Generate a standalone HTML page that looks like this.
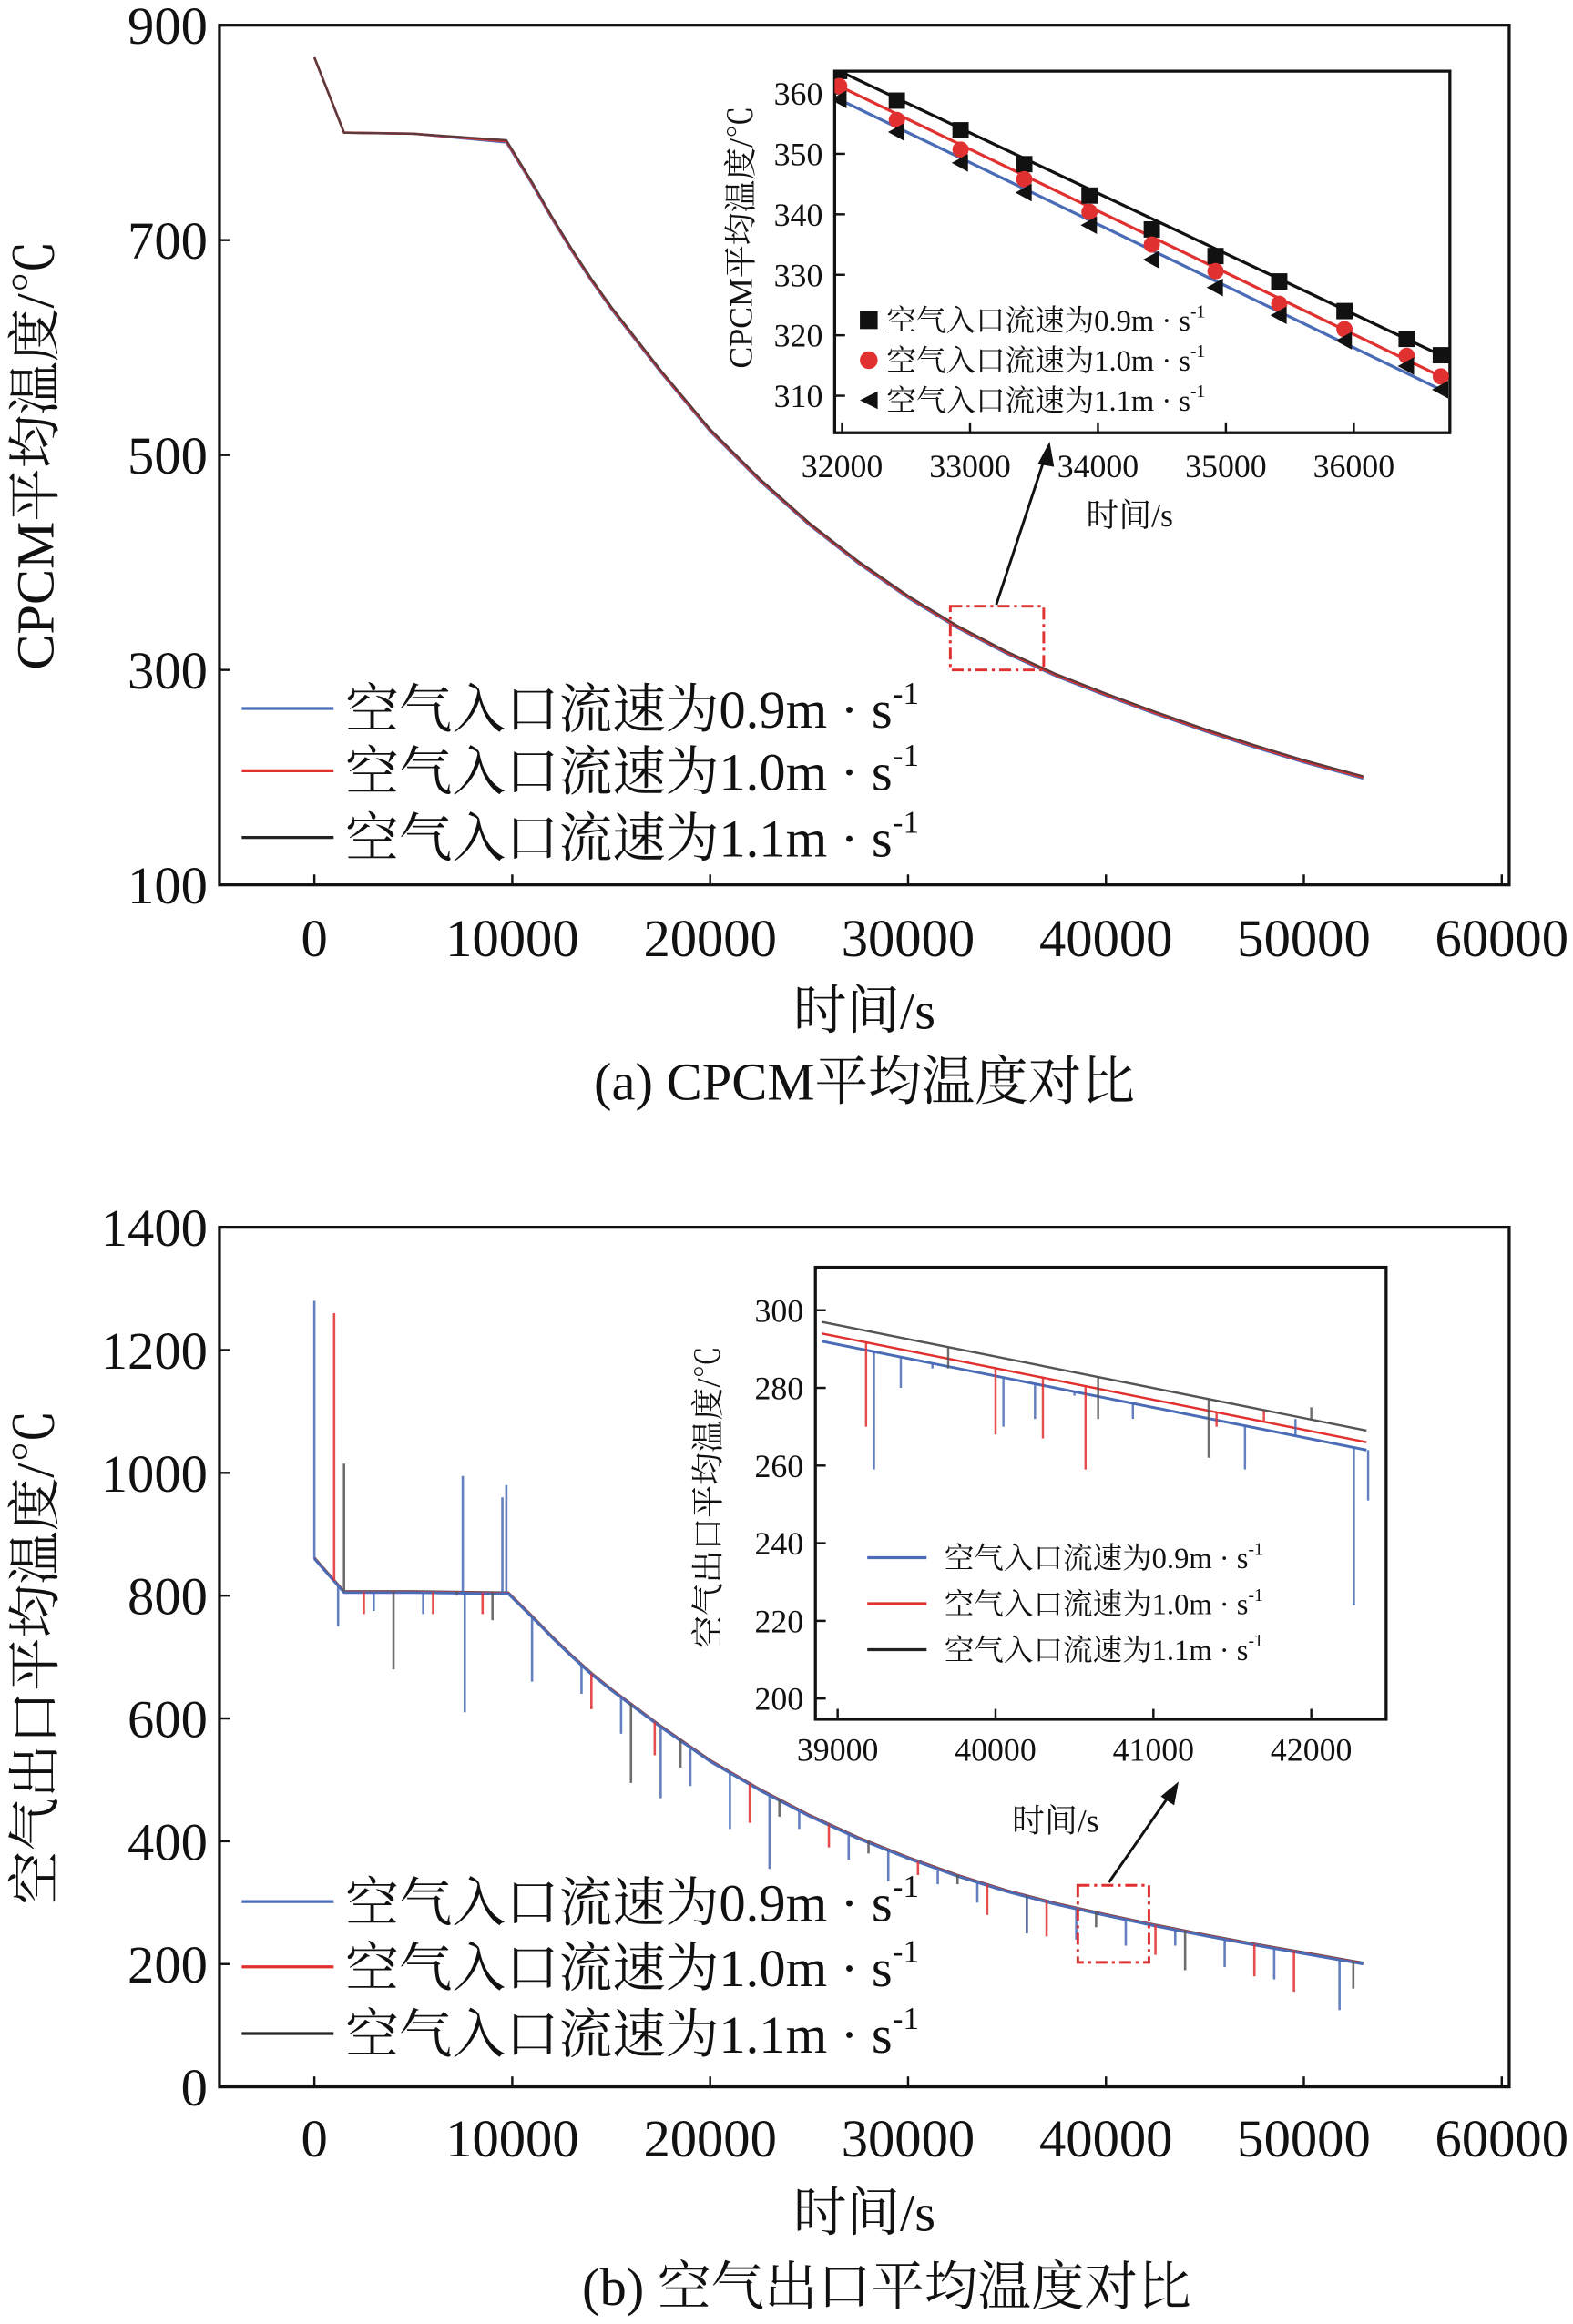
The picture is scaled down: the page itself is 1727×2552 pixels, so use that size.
<!DOCTYPE html>
<html><head><meta charset="utf-8">
<style>
html,body{margin:0;padding:0;background:#fff;}
svg{display:block;}
text{font-family:"Liberation Serif","Noto Serif CJK SC",serif;fill:#111;}
</style></head>
<body>
<svg id="fig" width="1727" height="2552" viewBox="0 0 1061 1568" xmlns="http://www.w3.org/2000/svg"></svg>
<script>
// ---------- DATA ----------
const mainXTicks = [0,10000,20000,30000,40000,50000,60000];
const aYTicks = [100,300,500,700,900];
const bYTicks = [0,200,400,600,800,1000,1200,1400];
const seriesNames = ["空气入口流速为0.9m · s","空气入口流速为1.0m · s","空气入口流速为1.1m · s"];
const seriesNamesSmall = ["空气入口流速为0.9m · s","空气入口流速为1.0m · s","空气入口流速为1.1m · s"];
const seriesColors = ["#4a6bb5","#e03030","#222"];
// Plot (a) CPCM average temperature
const aTime = [0,1500,5000,9700,11000,12000,13000,14000,15000,17500,20000,22500,25000,27500,30000,32500,35000,37500,40000,42500,45000,47500,50000,53000];
const aTemp09 = [870,800,799,791,752,720,690,662,636,577,522,476,435,399,367,339,315,294,276,259,243,228,214,199];
const aTemp10 = [870,800,799,792,753,721,691,663,637,578,523,477,436,400,368,340,316,295,277,260,244,229,215,200];
const aTemp11 = [870,800,799,793,754,722,692,664,638,579,524,478,437,401,369,341,317,296,278,261,245,230,216,201];
// inset (a)
const iaXTicks = [32000,33000,34000,35000,36000];
const iaYTicks = [310,320,330,340,350,360];
const iaTime = [31977,32428,32926,33424,33934,34421,34919,35417,35927,36413,36680];
const iaSq = [363.7,358.8,353.9,348.3,343.1,337.5,333.1,328.9,324.0,319.4,316.7];
const iaCi = [361.2,355.6,350.7,345.8,340.4,335.0,330.6,325.2,321.0,316.6,313.2];
const iaTr = [359.0,353.6,348.5,343.6,338.2,332.5,327.9,323.3,319.1,314.9,311.0];
// Plot (b) outlet air temperature: base curve + spikes
const bTime = [0,1500,5000,9800,11000,12000,13000,14000,15000,17500,20000,22500,25000,27500,30000,32500,35000,37500,40000,42500,45000,47500,50000,53000];
const bBase = [860,805,805,803,765,732,701,672,646,586,530,483,441,404,372,343,318,297,279,262,246,231,217,200];
const bSpikes09T = [0,300,1200,3000,5500,7500,7600,9500,9700,11000,13500,15500,17500,19000,21000,23000,24500,27000,29000,31500,33500,36000,38500,41000,43500,46000,48500,51800];
const bSpikes09V = [1280,850,750,775,770,995,610,960,980,660,640,575,470,490,420,355,420,370,335,330,300,250,240,230,230,195,175,125];
const bSpikes10T = [1000,2500,6000,8500,14000,17200,22000,26000,30500,34000,37000,42500,47500,49500];
const bSpikes10V = [1260,770,770,770,615,540,430,390,345,280,245,215,180,155];
const bSpikes11T = [1500,4000,7200,9000,16000,18500,23500,28000,32500,36000,39500,44000,52500];
const bSpikes11V = [1015,680,800,760,495,520,440,380,330,250,260,190,160];
// inset (b)
const ibXTicks = [39000,40000,41000,42000];
const ibYTicks = [200,220,240,260,280,300];
const ibTime = [38900,42350];
const ibBase09 = [292,264];
const ibBase10 = [294,266];
const ibBase11 = [297,269];
const ibSp09T = [39230,39400,39600,40050,40250,40500,40870,41000,41580,41900,42270,42360];
const ibSp09V = [259,280,285,270,272,278,272,275,259,272,224,251];
const ibSp10T = [39180,40000,40300,40570,41400,41700];
const ibSp10V = [270,268,267,259,270,274];
const ibSp11T = [39700,40650,41350,42000];
const ibSp11V = [285,272,262,275];

// ---------- HELPERS ----------
const NS="http://www.w3.org/2000/svg";
const svg=document.getElementById('fig');
function mk(tag,attrs,parent){const e=document.createElementNS(NS,tag);for(const k in attrs)e.setAttribute(k,attrs[k]);(parent||svg).appendChild(e);return e;}
function lin(d0,d1,r0,r1){return v=>r0+(v-d0)/(d1-d0)*(r1-r0);}

function axes(g,L,R,T,B,sx,sy,xt,yt,fs,xLabY,name){
  const box=mk('rect',{x:L,y:T,width:R-L,height:B-T,fill:'none',stroke:'#111','stroke-width':2},g);
  
  
  xt.forEach(v=>{const x=sx(v);
    const t=mk('line',{x1:x,x2:x,y1:B,y2:B-7,stroke:'#111','stroke-width':1.5},g);
    
    
    const l=mk('text',{x:x,y:xLabY,'font-size':fs,'text-anchor':'middle'},g);l.textContent=v;
    
    
  });
  yt.forEach(v=>{const y=sy(v);
    const t=mk('line',{x1:L,x2:L+7,y1:y,y2:y,stroke:'#111','stroke-width':1.5},g);
    
    
    const l=mk('text',{x:L-8,y:y+fs*0.35,'font-size':fs,'text-anchor':'end'},g);l.textContent=v;
    
    
  });
}
function poly(g,xs,ys,sx,sy,color,w,name){
  const d=xs.map((x,i)=>(i?'L':'M')+sx(x).toFixed(2)+','+sy(ys[i]).toFixed(2)).join('');
  const p=mk('path',{d:d,fill:'none',stroke:color,'stroke-width':w,'stroke-linejoin':'round'},g);
  
  
  return p;
}
function interp(xs,ys,x){for(let i=1;i<xs.length;i++){if(x<=xs[i]){const f=(x-xs[i-1])/(xs[i]-xs[i-1]);return ys[i-1]+f*(ys[i]-ys[i-1]);}}return ys[ys.length-1];}
function spikes(g,bx,by,st,sv,sx,sy,color,w,name){
  st.forEach((t,i)=>{const b=interp(bx,by,t);
    const l=mk('line',{x1:sx(t),x2:sx(t),y1:sy(b),y2:sy(sv[i]),stroke:color,'stroke-width':w,opacity:0.85},g);
    
    
  });
}
function legendText(g,x,y,txt,fs,name){
  const t=mk('text',{x:x,y:y,'font-size':fs},g);
  
  
  const a=mk('tspan',{},t);a.textContent=txt;
  const s=mk('tspan',{dy:-fs*0.45,'font-size':fs*0.6},t);s.textContent='-1';
}
function label(g,x,y,txt,fs,name,rot,anchor){
  const t=mk('text',{x:x,y:y,'font-size':fs,'text-anchor':anchor||'middle'},g);
  if(rot)t.setAttribute('transform','rotate(-90 '+x+' '+y+')');
  t.textContent=txt;
  
  
}

// ---------- PLOT A ----------
const gA=mk('g',{});
const axL=148,axR=1018;
const mx=lin(0,60000,212,1013);
const ayA=lin(100,900,597,17);
axes(gA,axL,axR,17,597,mx,ayA,mainXTicks,aYTicks,36,645,'plot-a');
poly(gA,aTime,aTemp09,mx,ayA,seriesColors[0],1.6,'series-0.9');
poly(gA,aTime,aTemp10,mx,ayA,seriesColors[1],1.6,'series-1.0');
poly(gA,aTime,aTemp11,mx,ayA,'#5a3a3a',1.4,'series-1.1');
label(gA,36,307,'CPCM平均温度/℃',36,'plot-a-y-title',true);
label(gA,583,694,'时间/s',36,'plot-a-x-title');
label(gA,583,742,'(a) CPCM平均温度对比',36,'plot-a-caption');
[478,520,565].forEach((y,i)=>{
  const l=mk('line',{x1:163,x2:225,y1:y,y2:y,stroke:seriesColors[i],'stroke-width':2},gA);
  
  
  legendText(gA,233,y+13,seriesNames[i],36,'plot-a-legend-entry');
});
const za=mk('rect',{x:641,y:409,width:63,height:43,fill:'none',stroke:'#e03030','stroke-width':1.8,'stroke-dasharray':'8,3,2,3'},gA);

const arA=mk('line',{x1:672,y1:408,x2:705,y2:308,stroke:'#111','stroke-width':1.8},gA);

const ahA=mk('polygon',{points:'708,298 700,313 711,315',fill:'#111'},gA);


// inset A
const giA=mk('g',{});
const bgA=mk('rect',{x:563,y:48,width:415,height:244,fill:'#fff'},giA);

const ixA=lin(32000,33000,568,654.3);
const iyA=lin(310,360,267,63);
axes(giA,563,978,48,292,ixA,iyA,iaXTicks,iaYTicks,22,322,'plot-a-inset');
const cp=mk('clipPath',{id:'cpA'},giA);mk('rect',{x:563,y:48,width:415,height:244},cp);
const giAc=mk('g',{'clip-path':'url(#cpA)'},giA);
const iaLineT=[iaTime[0],iaTime[iaTime.length-1]];
poly(giAc,iaLineT,[iaSq[0],iaSq[iaSq.length-1]],ixA,iyA,'#111',2,'inset-a-line-0.9');
poly(giAc,iaLineT,[iaCi[0],iaCi[iaCi.length-1]],ixA,iyA,'#e03030',2,'inset-a-line-1.0');
poly(giAc,iaLineT,[iaTr[0],iaTr[iaTr.length-1]],ixA,iyA,'#4a6bb5',2,'inset-a-line-1.1');
iaTime.forEach((t,i)=>{
  const x=ixA(t);
  const s=mk('rect',{x:x-5.5,y:iyA(iaSq[i])-5.5,width:11,height:11,fill:'#111'},giAc);
  
  const c=mk('circle',{cx:x,cy:iyA(iaCi[i]),r:5.5,fill:'#e03030'},giAc);
  
  const y=iyA(iaTr[i]);
  const tr=mk('polygon',{points:(x-6)+','+y+' '+(x+5)+','+(y-6)+' '+(x+5)+','+(y+6),fill:'#111'},giAc);
  
});
label(giA,507,160,'CPCM平均温度/℃',22,'plot-a-inset-y-title',true);
label(giA,762,355,'时间/s',22,'plot-a-inset-x-title');
[216,243,270].forEach((y,i)=>{
  let m;
  if(i===0){m=mk('rect',{x:580,y:y-6,width:12,height:12,fill:'#111'},giA);}
  else if(i===1){m=mk('circle',{cx:586,cy:y,r:6,fill:'#e03030'},giA);}
  else{m=mk('polygon',{points:'580,'+y+' 592,'+(y-6)+' 592,'+(y+6),fill:'#111'},giA);}
  
  legendText(giA,598,y+7,seriesNamesSmall[i],20,'plot-a-inset-legend-entry');
});

// ---------- PLOT B ----------
const gB=mk('g',{});
const ayB=lin(0,1400,1408,828);
axes(gB,axL,axR,828,1408,mx,ayB,mainXTicks,bYTicks,36,1455,'plot-b');
const bB11=bBase.map(v=>v+2), bB10=bBase.map(v=>v+1);
poly(gB,bTime,bB11,mx,ayB,'#555',1.6,'plot-b-series-1.1');
poly(gB,bTime,bB10,mx,ayB,seriesColors[1],1.6,'plot-b-series-1.0');
poly(gB,bTime,bBase,mx,ayB,seriesColors[0],1.8,'plot-b-series-0.9');
spikes(gB,bTime,bB11,bSpikes11T,bSpikes11V,mx,ayB,'#555',1.6,'plot-b-spike-1.1');
spikes(gB,bTime,bB10,bSpikes10T,bSpikes10V,mx,ayB,seriesColors[1],1.6,'plot-b-spike-1.0');
spikes(gB,bTime,bBase,bSpikes09T,bSpikes09V,mx,ayB,seriesColors[0],1.6,'plot-b-spike-0.9');
label(gB,36,1118,'空气出口平均温度/℃',36,'plot-b-y-title',true);
label(gB,583,1505,'时间/s',36,'plot-b-x-title');
label(gB,598,1555,'(b) 空气出口平均温度对比',36,'plot-b-caption');
[1283,1327,1372].forEach((y,i)=>{
  const l=mk('line',{x1:163,x2:225,y1:y,y2:y,stroke:seriesColors[i],'stroke-width':2},gB);
  
  
  legendText(gB,233,y+13,seriesNames[i],36,'plot-b-legend-entry');
});
const zb=mk('rect',{x:727,y:1272,width:48,height:52,fill:'none',stroke:'#e03030','stroke-width':1.8,'stroke-dasharray':'8,3,2,3'},gB);

const arB=mk('line',{x1:748,y1:1270,x2:789,y2:1211,stroke:'#111','stroke-width':1.8},gB);

const ahB=mk('polygon',{points:'795,1202 783,1212 792,1218',fill:'#111'},gB);


// inset B
const giB=mk('g',{});
const bgB=mk('rect',{x:550,y:855,width:385,height:305,fill:'#fff'},giB);

const ixB=lin(39000,40000,565,671.5);
const iyB=lin(200,300,1146,884);
axes(giB,550,935,855,1160,ixB,iyB,ibXTicks,ibYTicks,22,1188,'plot-b-inset');
const cpB=mk('clipPath',{id:'cpB'},giB);mk('rect',{x:550,y:855,width:385,height:305},cpB);
const giBc=mk('g',{'clip-path':'url(#cpB)'},giB);
poly(giBc,ibTime,ibBase11,ixB,iyB,'#555',1.5,'inset-b-series-1.1');
poly(giBc,ibTime,ibBase10,ixB,iyB,'#e03030',1.5,'inset-b-series-1.0');
poly(giBc,ibTime,ibBase09,ixB,iyB,'#4a6bb5',1.8,'inset-b-series-0.9');
spikes(giBc,ibTime,ibBase11,ibSp11T,ibSp11V,ixB,iyB,'#555',1.5,'inset-b-spike-1.1');
spikes(giBc,ibTime,ibBase10,ibSp10T,ibSp10V,ixB,iyB,'#e03030',1.5,'inset-b-spike-1.0');
spikes(giBc,ibTime,ibBase09,ibSp09T,ibSp09V,ixB,iyB,'#4a6bb5',1.5,'inset-b-spike-0.9');
label(giB,485,1010,'空气出口平均温度/℃',22,'plot-b-inset-y-title',true);
label(giB,712,1236,'时间/s',22,'plot-b-inset-x-title');
[1051,1082,1113].forEach((y,i)=>{
  const l=mk('line',{x1:585,x2:625,y1:y,y2:y,stroke:seriesColors[i],'stroke-width':2},giB);
  
  
  legendText(giB,637,y+7,seriesNamesSmall[i],20,'plot-b-inset-legend-entry');
});
</script>
</body></html>
